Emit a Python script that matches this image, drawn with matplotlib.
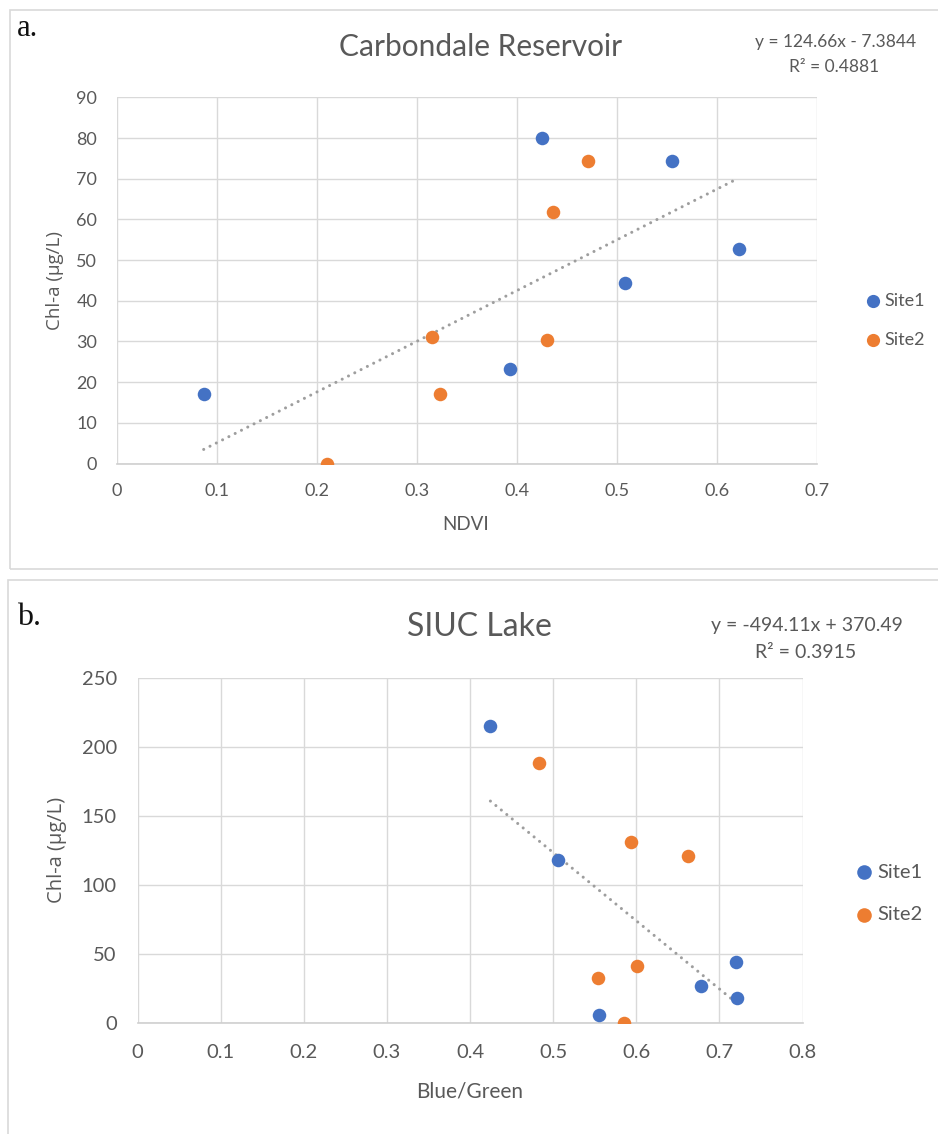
import matplotlib
matplotlib.use("Agg")
import matplotlib.pyplot as plt
import numpy as np
from matplotlib.patches import Rectangle

# ---------------- data ----------------
a_site1_x = [0.087, 0.393, 0.425, 0.508, 0.555, 0.622]
a_site1_y = [17.2, 23.3, 80.0, 44.3, 74.3, 52.7]
a_site2_x = [0.210, 0.315, 0.323, 0.430, 0.436, 0.471]
a_site2_y = [0.0, 31.2, 17.2, 30.3, 61.9, 74.3]
a_fit = [124.66, -7.3844]
a_r2 = 0.4881
a_xticks = [0, 0.1, 0.2, 0.3, 0.4, 0.5, 0.6, 0.7]
a_yticks = [0, 10, 20, 30, 40, 50, 60, 70, 80, 90]

b_site1_x = [0.4245, 0.5058, 0.5554, 0.678, 0.7194, 0.7209]
b_site1_y = [215.1, 117.8, 5.7, 27.1, 43.8, 17.7]
b_site2_x = [0.4835, 0.554, 0.585, 0.5935, 0.6007, 0.6626]
b_site2_y = [188.2, 32.6, 0.0, 131.4, 41.4, 120.7]
b_fit = [-494.11, 370.49]
b_r2 = 0.3915
b_xticks = [0, 0.1, 0.2, 0.3, 0.4, 0.5, 0.6, 0.7, 0.8]
b_yticks = [0, 50, 100, 150, 200, 250]

series_names = ["Site1", "Site2"]

# ---------------- style ----------------
BLUE = "#4472C4"
ORANGE = "#ED7D31"
TXT = "#595959"
GRID = "#D9D9D9"
TREND = "#9E9E9E"
FONT = "Lato"
LABFONT = ["Open Sans", "DejaVu Sans"]

W, H = 938, 1134
fig = plt.figure(figsize=(W / 100, H / 100), dpi=100)


def fx(px):
    return px / W


def fy(py):
    return 1 - py / H


# panel frames
fig.patches.append(Rectangle((fx(9.5), fy(568.5)), fx(940) - fx(9.5), fy(9.5) - fy(568.5),
                             transform=fig.transFigure, fill=False, edgecolor=GRID, lw=1.2))
fig.patches.append(Rectangle((fx(7.5), fy(1140)), fx(940) - fx(7.5), fy(580.5) - fy(1140),
                             transform=fig.transFigure, fill=False, edgecolor=GRID, lw=1.2))


def panel(box, xs1, ys1, xs2, ys2, fit, xticks, yticks, fs_tick, pad):
    l, r, t, b = box
    ax = fig.add_axes([fx(l), fy(b), fx(r) - fx(l), fy(t) - fy(b)])
    ax.set_xlim(xticks[0], xticks[-1])
    ax.set_ylim(yticks[0], yticks[-1])
    ax.set_xticks(xticks)
    ax.set_yticks(yticks)
    ax.set_xticklabels([f"{v:g}" for v in xticks])
    ax.set_yticklabels([f"{v:g}" for v in yticks])
    ax.grid(True, color=GRID, lw=1.0, zorder=0)
    ax.set_axisbelow(True)
    for s in ["top", "right", "left"]:
        ax.spines[s].set_visible(False)
    ax.spines["bottom"].set_color("#CFCFCF")
    ax.spines["bottom"].set_linewidth(1.2)
    ax.tick_params(length=0, labelsize=fs_tick, labelcolor=TXT, pad=pad)
    for lab in ax.get_xticklabels() + ax.get_yticklabels():
        lab.set_fontfamily(FONT)
    xx = np.array([min(xs1 + xs2), max(xs1 + xs2)])
    ax.plot(xx, fit[0] * xx + fit[1], color=TREND, lw=2.2,
            linestyle=(0, (0.01, 2.3)), dash_capstyle="round", zorder=2)
    ax.scatter(xs1, ys1, s=95, color=BLUE, zorder=3, linewidths=0)
    ax.scatter(xs2, ys2, s=95, color=ORANGE, zorder=3, linewidths=0)
    return ax


# ---------------- panel a ----------------
axa = panel((116.7, 816.6, 97.4, 463.5), a_site1_x, a_site1_y, a_site2_x, a_site2_y,
            a_fit, a_xticks, a_yticks, 13, 14)
fig.text(fx(17), fy(29), "a.", fontsize=22, family="Liberation Serif", color="#111111",
         ha="left", va="center")
fig.text(fx(481), fy(47), "Carbondale Reservoir", fontsize=21.5, family=FONT, color=TXT,
         ha="center", va="center")
fig.text(fx(836), fy(42), f"y = {a_fit[0]:g}x - {abs(a_fit[1]):g}", fontsize=12.5, family=FONT,
         color=TXT, ha="center", va="center")
fig.text(fx(834), fy(67), f"R² = {a_r2:g}", fontsize=12.5, family=FONT,
         color=TXT, ha="center", va="center")
fig.text(fx(466), fy(524), "NDVI", fontsize=13.5, family=FONT, color=TXT, ha="center", va="center")
fig.text(fx(55), fy(281), "Chl-a (µg/L)", fontsize=13.5, family=LABFONT, color=TXT,
         ha="center", va="center", rotation=90)
for name, col, py in [(series_names[0], BLUE, 300.5), (series_names[1], ORANGE, 340)]:
    fig.text(fx(884), fy(py), name, fontsize=13, family=FONT, color=TXT, ha="left", va="center")
    fig.lines.append(plt.Line2D([fx(872.7)], [fy(py)], marker="o", ms=9.5, color=col,
                                markeredgewidth=0, transform=fig.transFigure))

# ---------------- panel b ----------------
axb = panel((137.6, 802.5, 677.9, 1022.9), b_site1_x, b_site1_y, b_site2_x, b_site2_y,
            b_fit, b_xticks, b_yticks, 14.5, 15)
fig.text(fx(17), fy(617), "b.", fontsize=23, family="Liberation Serif", color="#111111",
         ha="left", va="center")
fig.text(fx(479), fy(627), "SIUC Lake", fontsize=23, family=FONT, color=TXT,
         ha="center", va="center")
fig.text(fx(807), fy(625), f"y = {b_fit[0]:g}x + {b_fit[1]:g}", fontsize=14, family=FONT,
         color=TXT, ha="center", va="center")
fig.text(fx(806), fy(653), f"R² = {b_r2:g}", fontsize=14, family=FONT,
         color=TXT, ha="center", va="center")
fig.text(fx(470), fy(1092), "Blue/Green", fontsize=15, family=FONT, color=TXT,
         ha="center", va="center")
fig.text(fx(57), fy(850), "Chl-a (µg/L)", fontsize=14.5, family=LABFONT, color=TXT,
         ha="center", va="center", rotation=90)
for name, col, py in [(series_names[0], BLUE, 872), (series_names[1], ORANGE, 915)]:
    fig.text(fx(877), fy(py), name, fontsize=14.5, family=FONT, color=TXT, ha="left", va="center")
    fig.lines.append(plt.Line2D([fx(864)], [fy(py)], marker="o", ms=10.5, color=col,
                                markeredgewidth=0, transform=fig.transFigure))

fig.savefig("out.png", dpi=100)
